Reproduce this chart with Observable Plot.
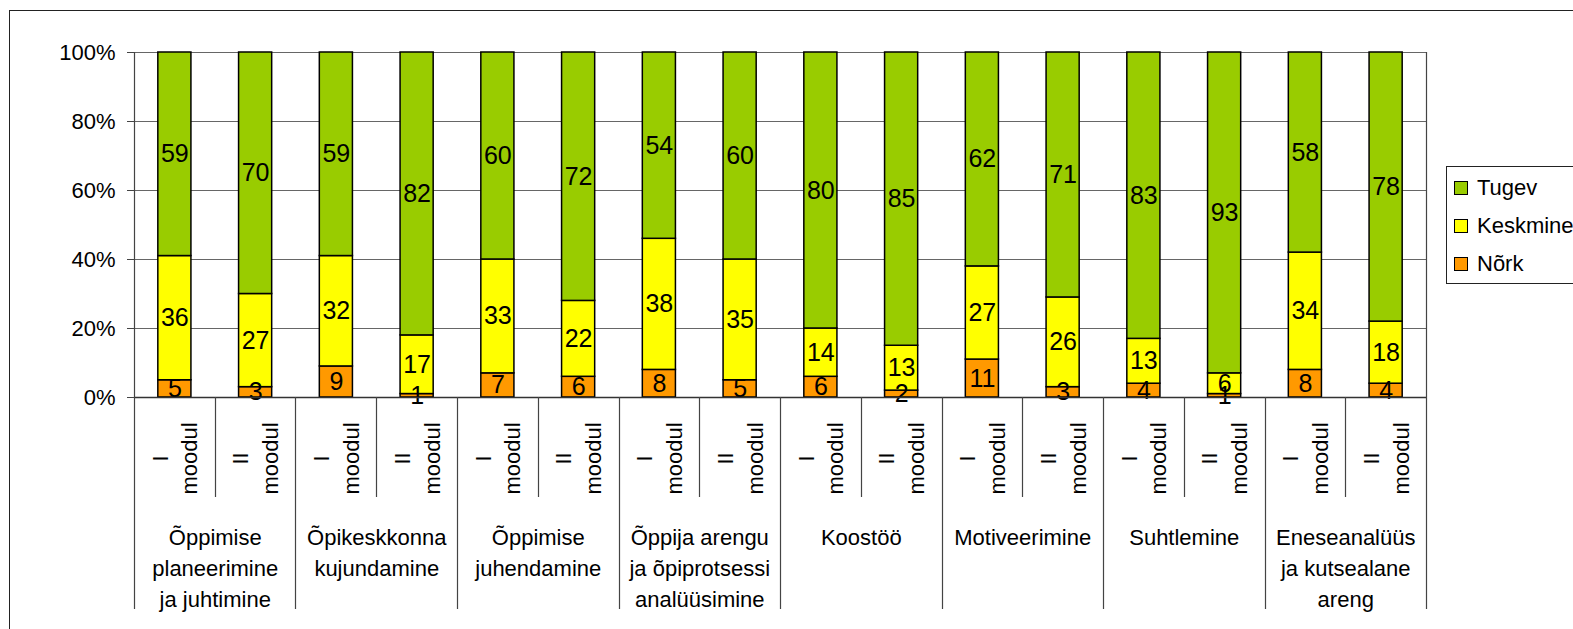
<!DOCTYPE html>
<html><head><meta charset="utf-8">
<script src="https://cdn.jsdelivr.net/npm/d3@7"></script>
<script src="https://cdn.jsdelivr.net/npm/@observablehq/plot@0.6"></script>
<style>
body{margin:0;background:#fff;font-family:"Liberation Sans",Arial,sans-serif;}
#wrap{position:relative;width:1573px;height:629px;overflow:hidden;background:#fff;}
#border{position:absolute;left:9px;top:10px;width:1700px;height:700px;border:1px solid #222;}
#chart{position:absolute;left:0;top:0;}
#legend{position:absolute;left:1446px;top:166px;width:200px;height:116px;border:1px solid #222;background:#fff;font-size:22px;}
.item{position:absolute;left:7px;height:26px;display:flex;align-items:center;}
.sw{width:12px;height:12px;border:1px solid #000;margin-right:9px;}
</style></head><body>
<div id="wrap"><div id="border"></div><div id="chart"></div><div id="legend"></div></div>
<script>
const groups = [
  "Õppimise\nplaneerimine\nja juhtimine",
  "Õpikeskkonna\nkujundamine",
  "Õppimise\njuhendamine",
  "Õppija arengu\nja õpiprotsessi\nanalüüsimine",
  "Koostöö",
  "Motiveerimine",
  "Suhtlemine",
  "Eneseanalüüs\nja kutsealane\nareng"
];
const modules = ["I\nmoodul", "II\nmoodul"];
const series = ["Nõrk", "Keskmine", "Tugev"];
const colors = ["#FF9900", "#FFFF00", "#99CC00"];
const nork     = [5, 3, 9, 1, 7, 6, 8, 5, 6, 2, 11, 3, 4, 1, 8, 4];
const keskmine = [36, 27, 32, 17, 33, 22, 38, 35, 14, 13, 27, 26, 13, 6, 34, 18];
const tugev    = [59, 70, 59, 82, 60, 72, 54, 60, 80, 85, 62, 71, 83, 93, 58, 78];
const yTicks = [0, 20, 40, 60, 80, 100];

const ids = d3.range(nork.length);
const bars = ids.map(i => ({id: i, group: groups[Math.floor(i / 2)], module: modules[i % 2]}));
const rows = [];
ids.forEach(i => {
  [nork, keskmine, tugev].forEach((arr, s) => rows.push({id: i, series: series[s], value: arr[i]}));
});
const groupStarts = bars.filter(b => b.id % 2 === 0);

const W = 1440, H = 629, mL = 134, mR = 14, mT = 52, mB = 232;
const step = (W - mL - mR) / ids.length;

const chart = Plot.plot({
  width: W, height: H,
  marginLeft: mL, marginRight: mR, marginTop: mT, marginBottom: mB,
  style: {fontFamily: "'Liberation Sans', Arial, sans-serif", fontSize: "22px", color: "#000", background: "transparent"},
  x: {type: "band", domain: ids, paddingInner: 0.59, paddingOuter: 0.295, round: false, axis: null},
  y: {domain: [0, 100], ticks: yTicks, tickFormat: d => d + "%", tickSize: 7, tickPadding: 12, label: null},
  color: {domain: series, range: colors},
  marks: [
    Plot.gridY(yTicks.filter(t => t > 0), {stroke: "#666", strokeOpacity: 1, strokeWidth: 1}),
    Plot.axisY({ticks: yTicks, tickFormat: d => d + "%", tickSize: 7, tickPadding: 12, fontSize: 22, label: null, stroke: "#444"}),
    Plot.barY(rows, Plot.stackY({x: "id", y: "value", z: "series", fill: "series", stroke: "#000", strokeWidth: 1.5})),
    Plot.text(rows, Plot.stackY({x: "id", y: "value", z: "series", text: d => String(d.value), fontSize: 25, fill: "#000"})),
    Plot.ruleY([0], {stroke: "#333", strokeWidth: 1.5}),
    Plot.text(bars, {x: "id", text: "module", frameAnchor: "bottom", dx: -2, dy: 61, rotate: -90, textAnchor: "middle", lineAnchor: "middle", lineHeight: 1.36, fontSize: 22, fill: "#000"}),
    Plot.text(groupStarts, {x: "id", text: "group", frameAnchor: "bottom", dx: step / 2, dy: 125.5, textAnchor: "middle", lineAnchor: "top", lineHeight: 1.41, fontSize: 22, fill: "#000"})
  ]
});
document.getElementById("chart").appendChild(chart);

// separator lines using the chart's x scale
const sx = chart.scale("x");
let xf, bw, st;
if (sx.apply) { xf = sx.apply; bw = sx.bandwidth; st = sx.step; }
else {
  const b = d3.scaleBand().domain(sx.domain).range(sx.range).paddingInner(sx.paddingInner).paddingOuter(sx.paddingOuter).align(sx.align ?? 0.5);
  xf = b; bw = b.bandwidth(); st = b.step();
}
const sy = chart.scale("y");
const y0 = sy.apply ? sy.apply(0) : H - mB;
const y100 = sy.apply ? sy.apply(100) : mT;
const svg = d3.select(chart);
const g = svg.append("g").attr("stroke", "#444").attr("stroke-width", 1.2);
for (let i = 0; i <= ids.length; i++) {
  const xi = i < ids.length ? xf(ids[i]) + bw / 2 - st / 2 : xf(ids[ids.length - 1]) + bw / 2 + st / 2;
  const xr = Math.round(xi) + 0.5;
  const yEnd = (i % 2 === 0) ? 609 : 497;
  g.append("line").attr("x1", xr).attr("x2", xr).attr("y1", i === 0 || i === ids.length ? y100 : y0).attr("y2", yEnd);
}

// legend
const leg = document.getElementById("legend");
[2, 1, 0].forEach((s, k) => {
  const it = document.createElement("div");
  it.className = "item";
  it.style.top = (8 + k * 38) + "px";
  it.innerHTML = `<span class="sw" style="background:${colors[s]}"></span><span>${series[s]}</span>`;
  leg.appendChild(it);
});
</script>
</body></html>
